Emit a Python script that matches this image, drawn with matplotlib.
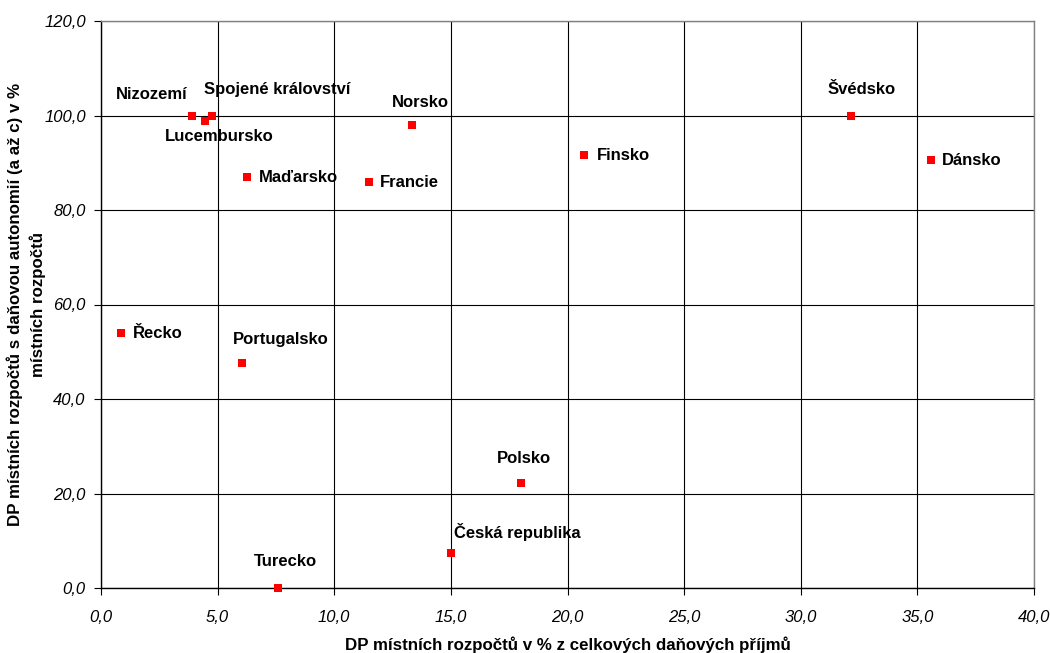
import matplotlib

matplotlib.use("Agg")
import matplotlib.pyplot as plt
from matplotlib.ticker import FuncFormatter, MultipleLocator

plt.rcParams["font.family"] = ["Liberation Sans", "DejaVu Sans"]

# Local tax revenue share (x) vs. share with tax autonomy (y), in %.
countries = [
    "Nizozemí", "Spojené království", "Lucembursko", "Norsko", "Maďarsko",
    "Francie", "Finsko", "Švédsko", "Dánsko", "Řecko", "Portugalsko",
    "Polsko", "Česká republika", "Turecko",
]
share_total = [3.9, 4.75, 4.45, 13.35, 6.25, 11.5, 20.7, 32.15, 35.6, 0.85, 6.05, 18.0, 15.0, 7.6]
share_autonomy = [100.0, 100.0, 98.8, 98.0, 87.0, 86.0, 91.7, 100.0, 90.6, 54.0, 47.6, 22.2, 7.4, 0.0]

# label offsets in pixels from the marker, plus horizontal alignment
label_pos = {
    "Nizozemí": (-40, 21, "center"),
    "Spojené království": (65, 26, "center"),
    "Lucembursko": (14, -15, "center"),
    "Norsko": (8, 22, "center"),
    "Maďarsko": (12, -1, "left"),
    "Francie": (11, -1, "left"),
    "Finsko": (13, -1, "left"),
    "Švédsko": (11, 26, "center"),
    "Dánsko": (11, -1, "left"),
    "Řecko": (12, -1, "left"),
    "Portugalsko": (39, 24, "center"),
    "Polsko": (3, 25, "center"),
    "Česká republika": (66, 21, "center"),
    "Turecko": (7, 26, "center"),
}

W, H = 1050, 653
fig = plt.figure(figsize=(W / 100, H / 100), dpi=100)
ax = fig.add_axes([101 / W, 1 - 588 / H, 933 / W, 567 / H])

ax.set_xlim(0, 40)
ax.set_ylim(0, 120)
ax.xaxis.set_major_locator(MultipleLocator(5))
ax.yaxis.set_major_locator(MultipleLocator(20))
fmt = FuncFormatter(lambda v, _: f"{v:.1f}".replace(".", ","))
ax.xaxis.set_major_formatter(fmt)
ax.yaxis.set_major_formatter(fmt)
ax.grid(True, color="#000000", lw=0.8)
ax.set_axisbelow(True)

for side in ("top", "right"):
    ax.spines[side].set_color("#808080")
    ax.spines[side].set_linewidth(1.0)
for side in ("left", "bottom"):
    ax.spines[side].set_color("#000000")
    ax.spines[side].set_linewidth(1.0)

ax.tick_params(direction="out", length=5, width=0.8, color="#000000", labelsize=12)
ax.tick_params(axis="x", pad=11)
ax.tick_params(axis="y", pad=6)
for lbl in ax.get_xticklabels() + ax.get_yticklabels():
    lbl.set_fontstyle("italic")

ax.scatter(share_total, share_autonomy, s=36, marker="s", color="#ff0000",
           linewidths=0, zorder=3, clip_on=False)

for name, x, y in zip(countries, share_total, share_autonomy):
    dx, dy, ha = label_pos[name]
    ax.annotate(name, (x, y), xytext=(dx, dy), textcoords="offset pixels",
                ha=ha, va="center", fontsize=12, fontweight="bold")

ax.set_xlabel("DP místních rozpočtů v % z celkových daňových příjmů",
              fontsize=12.2, fontweight="bold")
ax.xaxis.set_label_coords(0.5, -0.085)
ax.set_ylabel("DP místních rozpočtů s daňovou autonomií (a až c) v %\nmístních rozpočtů",
              fontsize=12.2, fontweight="bold", linespacing=1.45)
ax.yaxis.set_label_coords(-0.059, 0.5)

fig.savefig("out.png", dpi=100)
